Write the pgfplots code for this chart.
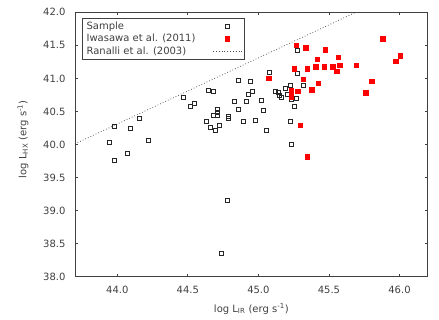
\documentclass[border=0pt]{standalone}
\usepackage{fontspec}
\setmainfont{DejaVu Sans}
\usepackage{pgfplots}
\pgfplotsset{compat=1.18}
\usetikzlibrary{calc}
\definecolor{axgray}{HTML}{404040}
\begin{document}
\fontsize{10}{12}\selectfont
\begin{tikzpicture}
\begin{axis}[
  scale only axis, width=352.7pt, height=264.4pt,
  xmin=43.7, xmax=46.2, ymin=38, ymax=42,
  xtick={44,44.5,45,45.5,46}, ytick={38,38.5,39,39.5,40,40.5,41,41.5,42},
  /pgf/number format/.cd, fixed, fixed zerofill, precision=1, assume math mode=true,
  /pgfplots/.cd,
  tick align=inside, major tick length=3pt,
  axis line style={axgray, line width=0.8pt},
  tick style={axgray, line width=0.8pt},
  xticklabel style={yshift=-6pt, text=axgray},
  yticklabel style={xshift=-6pt, text=axgray},
  xlabel={log L\textsubscript{IR} (erg s\textsuperscript{-1})},
  ylabel={log L\textsubscript{HX} (erg s\textsuperscript{-1})},
  xlabel style={at={(axis description cs:0.5,0)}, anchor=center, yshift=-32pt, text=axgray},
  ylabel style={at={(axis description cs:-0.1474,0.52)}, anchor=center, rotate=0, text=axgray},
  legend plot pos=right,
  legend cell align=left,
  legend image code/.code={\draw[mark repeat=2,mark phase=2,#1] plot coordinates {(0pt,0pt) (14.5pt,0pt) (29pt,0pt)};},
  legend style={at={(axis description cs:0.0190,0.979)}, anchor=north west, draw=axgray, line width=0.8pt, inner xsep=2.5pt, inner ysep=1.5pt, row sep=-0.6pt, text=axgray, font=\fontsize{10}{12}\selectfont},
]
\addplot[only marks, mark=square, mark size=2pt, mark options={black!85, line width=0.7pt}] table {
43.946 40.04
43.976 40.28
43.976 39.755
44.07 39.87
44.09 40.245
44.158 40.40
44.219 40.07
44.465 40.71
44.52 40.58
44.543 40.63
44.633 40.355
44.647 40.825
44.658 40.265
44.68 40.805
44.684 40.44
44.696 40.215
44.708 40.44
44.708 40.485
44.708 40.53
44.72 40.285
44.736 38.36
44.779 39.156
44.789 40.40
44.789 40.43
44.826 40.66
44.861 40.53
44.861 40.976
44.895 40.355
44.916 40.653
44.927 40.76
44.946 40.955
44.956 40.80
44.975 40.37
45.024 40.673
45.034 40.52
45.055 40.21
45.076 41.086
45.121 40.81
45.143 40.79
45.147 40.75
45.164 40.71
45.192 40.85
45.206 40.76
45.223 40.89
45.223 40.345
45.232 40.008
45.235 40.69
45.253 40.58
45.267 40.70
45.275 41.08
45.277 41.43
45.317 40.90
};
\addlegendentry{\makebox[124pt][l]{Sample}}
\addplot[only marks, mark=square*, mark size=2.3pt, mark options={red, fill=red}] table {
45.074 41.00
45.232 40.815
45.232 40.72
45.253 41.147
45.267 41.50
45.277 40.805
45.295 40.29
45.317 40.99
45.336 41.465
45.345 41.147
45.345 39.815
45.376 40.83
45.405 41.18
45.416 41.29
45.423 40.93
45.466 41.18
45.473 41.435
45.525 41.18
45.553 41.107
45.565 41.32
45.575 41.20
45.692 41.20
45.761 40.78
45.801 40.956
45.879 41.60
45.975 41.26
46.004 41.34
};
\addlegendentry{\makebox[124pt][l]{Iwasawa et al. (2011)}}
\addplot[gray!60!black, line width=0.75pt, dash pattern=on 0.75pt off 2.1pt] coordinates {(43.7,40.01) (45.69,42.0)};
\addlegendentry{\makebox[124pt][l]{Ranalli et al. (2003)}}
\coordinate (bl) at (rel axis cs:0,0);
\coordinate (tr) at (rel axis cs:1,1);
\end{axis}
\pgfresetboundingbox
\path[use as bounding box] ($(bl)+(-75pt,-43.3pt)$) rectangle ($(tr)+(11.3pt,12.3pt)$);
\end{tikzpicture}
\end{document}
